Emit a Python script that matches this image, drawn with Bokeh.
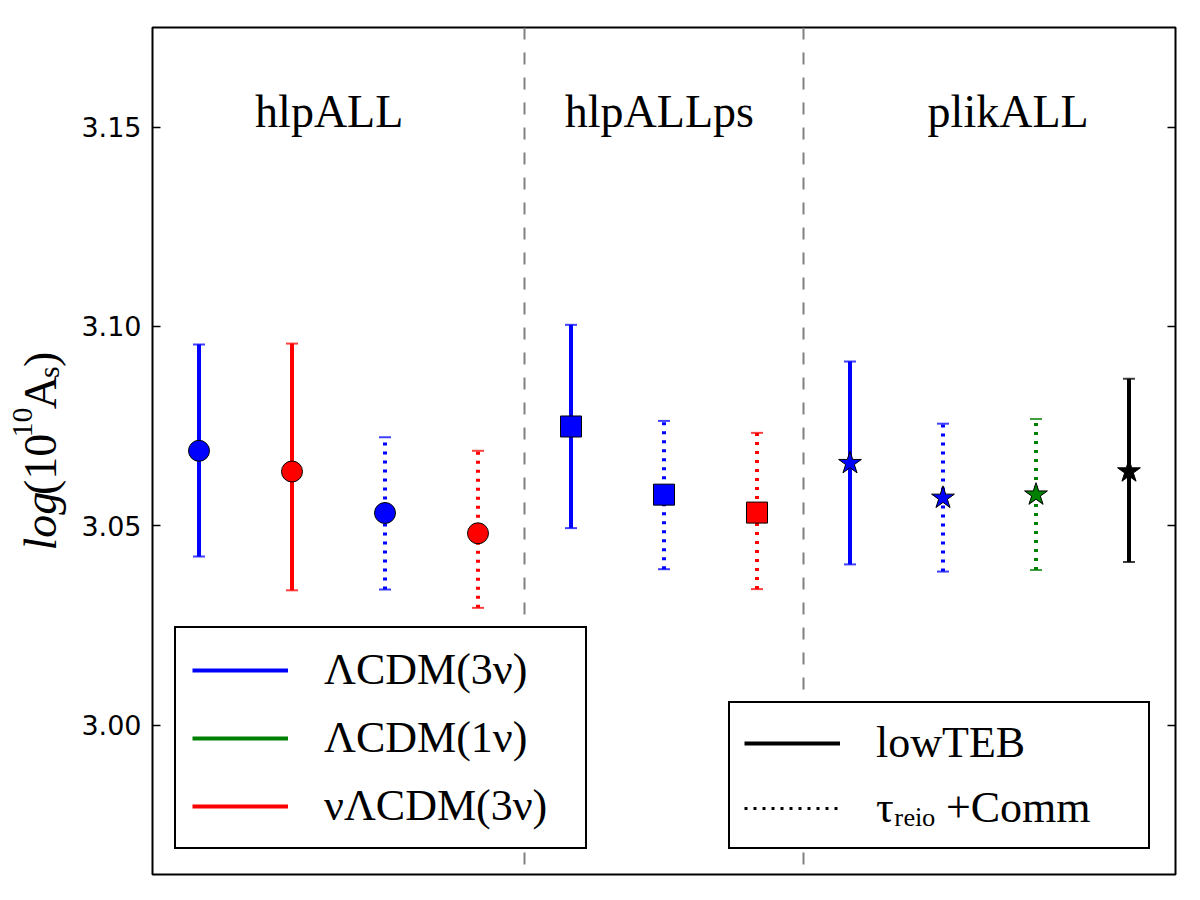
import math

from bokeh.plotting import figure
from bokeh.layouts import row
from bokeh.models import (ColumnDataSource, Span, Legend, LegendItem, LinearAxis,
                          FixedTicker, PrintfTickFormatter, CustomJSTickFormatter)
from bokeh.core.properties import value
from bokeh.embed import file_html
from bokeh.resources import INLINE

# --- data: log(10^10 A_s) constraints per likelihood / model / tau prior ---
position = [1, 2, 3, 4, 5, 6, 7, 8, 9, 10, 11]
group = ["hlpALL"] * 4 + ["hlpALLps"] * 3 + ["plikALL"] * 4
model = ["LCDM3", "nuLCDM3", "LCDM3", "nuLCDM3",
         "LCDM3", "LCDM3", "nuLCDM3",
         "LCDM3", "LCDM3", "LCDM1", "lowTEB"]
tau_prior = ["lowTEB", "lowTEB", "Comm", "Comm",
             "lowTEB", "Comm", "Comm",
             "lowTEB", "Comm", "Comm", "lowTEB"]
center = [3.0688, 3.0636, 3.0532, 3.0481,
          3.0749, 3.0578, 3.0533,
          3.0657, 3.0570, 3.0578, 3.0636]
lower = [3.0423, 3.0338, 3.0340, 3.0294,
         3.0494, 3.0391, 3.0341,
         3.0403, 3.0385, 3.0389, 3.0409]
upper = [3.0955, 3.0957, 3.0722, 3.0688,
         3.1004, 3.0763, 3.0733,
         3.0912, 3.0756, 3.0768, 3.0869]

group_names = ["hlpALL", "hlpALLps", "plikALL"]
group_label_x = [2.4, 5.95, 9.7]
group_label_y = 3.154
dividers = [4.5, 7.5]
y_ticks = [3.00, 3.05, 3.10, 3.15]

# --- styles ---
model_color = {"LCDM3": "#0000ff", "LCDM1": "#008000", "nuLCDM3": "#ff0000", "lowTEB": "#000000"}
group_marker = {"hlpALL": "circle", "hlpALLps": "square", "plikALL": "star"}
marker_size = {"circle": 21, "square": 21, "star": 24}
DOTTED = "3 6"
SERIF = "Liberation Serif"
NAN = float("nan")
WIDTH, HEIGHT = 1200, 900
TITLE_STRIP = 70  # width of the strip holding the y-axis title

colors = [model_color[m] for m in model]
markers = [group_marker[g] for g in group]
sizes = [marker_size[m] for m in markers]


def subset(idx):
    return ColumnDataSource(dict(
        x=[position[i] for i in idx],
        center=[center[i] for i in idx],
        lower=[lower[i] for i in idx],
        upper=[upper[i] for i in idx],
        color=[colors[i] for i in idx],
        marker=[markers[i] for i in idx],
        size=[sizes[i] for i in idx],
    ))


all_idx = list(range(len(position)))
solid_src = subset([i for i in all_idx if tau_prior[i] == "lowTEB"])
dotted_src = subset([i for i in all_idx if tau_prior[i] == "Comm"])
all_src = subset(all_idx)

p = figure(width=WIDTH - TITLE_STRIP, height=HEIGHT, x_range=(0.5, 11.5), y_range=(2.9625, 3.175),
           output_backend="svg", toolbar_location=None,
           min_border_left=152 - TITLE_STRIP, min_border_right=25,
           min_border_top=27, min_border_bottom=26)
p.background_fill_color = "white"
p.border_fill_color = "white"
p.grid.visible = False
p.outline_line_color = "black"
p.outline_line_width = 2
p.xaxis.visible = False

# left axis
ya = p.yaxis[0]
ya.ticker = FixedTicker(ticks=y_ticks)
ya.formatter = PrintfTickFormatter(format="%.2f")
ya.major_tick_in = 8
ya.major_tick_out = 0
ya.major_tick_line_width = 1.5
ya.minor_tick_line_color = None
ya.axis_line_color = None
ya.major_label_text_font = "DejaVu Sans"
ya.major_label_text_font_size = "27px"
ya.major_label_text_color = "black"
ya.major_label_standoff = 11

# mirrored ticks on the right, without labels
ra = LinearAxis(ticker=FixedTicker(ticks=y_ticks), major_tick_in=8, major_tick_out=0,
                major_tick_line_width=1.5, minor_tick_line_color=None, axis_line_color=None,
                formatter=CustomJSTickFormatter(code="return ''"), major_label_standoff=0)
p.add_layout(ra, "right")

# group separators
for d in dividers:
    p.add_layout(Span(location=d, dimension="height", line_color="gray",
                      line_dash="12 13", line_width=2))

# error bars
p.segment(x0="x", y0="lower", x1="x", y1="upper", source=solid_src,
          line_color="color", line_width=4, line_cap="butt")
p.segment(x0="x", y0="lower", x1="x", y1="upper", source=dotted_src,
          line_color="color", line_width=4, line_dash=DOTTED, line_cap="butt")
for end in ("lower", "upper"):
    p.scatter(x="x", y=end, marker="dash", size=12, source=all_src,
              line_color="color", line_width=2, line_alpha=0.75)

# central values
p.scatter(x="x", y="center", marker="marker", size="size", source=all_src,
          fill_color="color", line_color="black", line_width=1)

# group names
p.text(x=group_label_x, y=[group_label_y] * len(group_names), text=group_names,
       text_align="center", text_baseline="alphabetic",
       text_font=value(SERIF), text_font_size="46px", text_color="black")

# legend proxies (no visible data)
r_l3 = p.line(x=[NAN, NAN], y=[NAN, NAN], line_color=model_color["LCDM3"], line_width=4)
r_l1 = p.line(x=[NAN, NAN], y=[NAN, NAN], line_color=model_color["LCDM1"], line_width=4)
r_nu = p.line(x=[NAN, NAN], y=[NAN, NAN], line_color=model_color["nuLCDM3"], line_width=4)
r_lowteb = p.line(x=[NAN, NAN], y=[NAN, NAN], line_color="black", line_width=4)
r_comm = p.line(x=[NAN, NAN], y=[NAN, NAN], line_color="black", line_width=3, line_dash=DOTTED)

legend_style = dict(border_line_color="black", border_line_width=2, border_line_alpha=1.0,
                    background_fill_color="white", background_fill_alpha=1.0,
                    glyph_width=96, glyph_height=50, label_height=50,
                    label_standoff=36, label_text_font=SERIF, label_text_font_size="44px",
                    label_text_color="black")

legend_models = Legend(items=[LegendItem(label="ΛCDM(3ν)", renderers=[r_l3]),
                              LegendItem(label="ΛCDM(1ν)", renderers=[r_l1]),
                              LegendItem(label="νΛCDM(3ν)", renderers=[r_nu])],
                       location=(22, 25), margin=0, padding=16, spacing=17,
                       label_width=245, **legend_style)
legend_tau = Legend(items=[LegendItem(label="lowTEB", renderers=[r_lowteb]),
                           LegendItem(label="τᵣₑᵢₒ +Comm", renderers=[r_comm])],
                    location="bottom_right", margin=25, padding=14, spacing=14,
                    label_width=258, **legend_style)
p.add_layout(legend_models)
p.add_layout(legend_tau)

# strip on the left carrying the y-axis title log(10^10 A_s) in mixed styles;
# its ranges are in pixels, y counted from the bottom of the page
strip = figure(width=TITLE_STRIP, height=HEIGHT, x_range=(0, TITLE_STRIP), y_range=(0, HEIGHT),
               output_backend="svg", toolbar_location=None, x_axis_type=None, y_axis_type=None,
               min_border=0, outline_line_color=None)
strip.grid.visible = False
strip.background_fill_color = "white"
strip.border_fill_color = "white"

ylab_font = 46
ylab_small = 30
ylab_baseline = 40
ylab_parts = [  # text, font size, style, baseline shift, advance
    ("log", ylab_font, "italic", 0, 1.278 * ylab_font),
    ("(10", ylab_font, "normal", 0, 1.333 * ylab_font),
    ("10", ylab_small, "normal", -18, 1.0 * ylab_small),
    ("A", ylab_font, "normal", 0, 0.722 * ylab_font),
    ("s", ylab_small, "normal", 8, 0.389 * ylab_small),
    (")", ylab_font, "normal", 0, 0.333 * ylab_font),
]
total = sum(part[4] for part in ylab_parts)
along = (HEIGHT - 27 + 26) / 2 - total / 2
for txt, fs, style, shift, adv in ylab_parts:
    strip.text(x=[ylab_baseline + shift], y=[along], text=[txt], angle=math.pi / 2,
               text_align="left", text_baseline="alphabetic", text_font=value(SERIF),
               text_font_size=f"{fs}px", text_font_style=style, text_color="black")
    along += adv

layout = row(strip, p, spacing=0)
open("out.html", "w").write(file_html(layout, INLINE))
